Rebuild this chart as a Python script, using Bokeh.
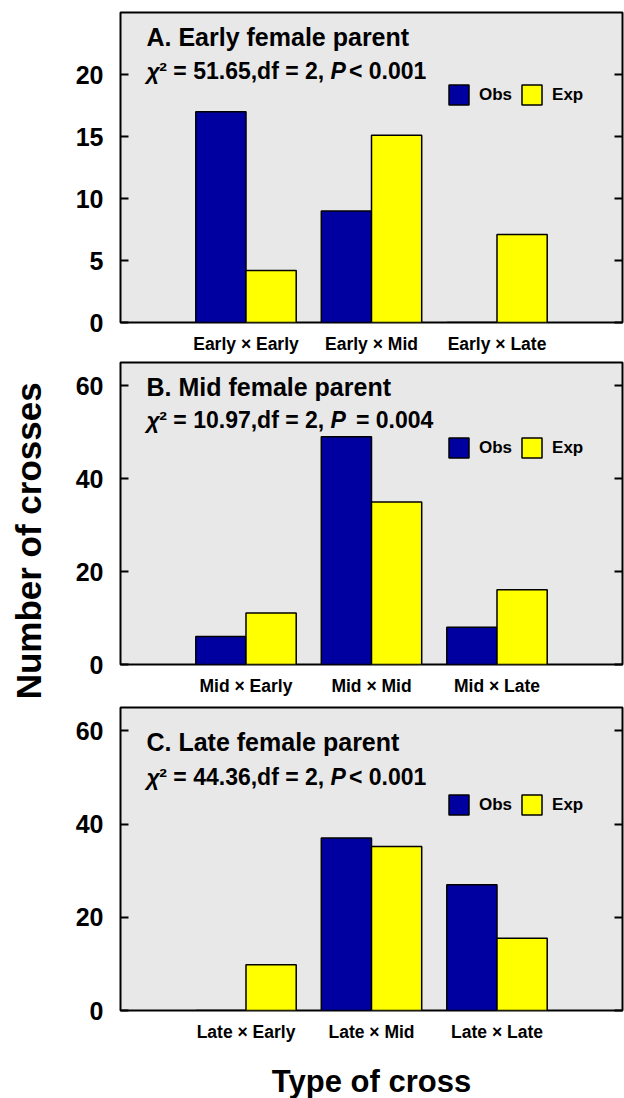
import math
from bokeh.plotting import figure
from bokeh.models import (FactorRange, LinearAxis, FixedTicker, Label, Legend, LegendItem,
                          ColumnDataSource, Range1d, CustomJSTickFormatter)
from bokeh.transform import dodge
from bokeh.layouts import row, column
from bokeh.embed import file_html
from bokeh.resources import INLINE

FONT = "Liberation Sans"

cats_a = ["Early × Early", "Early × Mid", "Early × Late"]
obs_a = [17, 9, 0]
exp_a = [4.2, 15.1, 7.1]

cats_b = ["Mid × Early", "Mid × Mid", "Mid × Late"]
obs_b = [6, 49, 8]
exp_b = [11.1, 35.0, 16.1]

cats_c = ["Late × Early", "Late × Mid", "Late × Late"]
obs_c = [0, 37, 27]
exp_c = [9.8, 35.2, 15.5]

titles = ["A. Early female parent", "B. Mid female parent", "C. Late female parent"]
chi_values = ["51.65", "10.97", "44.36"]
p_ops = ["<", "=", "<"]
p_values = ["0.001", "0.004", "0.001"]
y_max = [25, 65, 65]
y_ticks = [[0, 5, 10, 15, 20], [0, 20, 40, 60], [0, 20, 40, 60]]

OBS_COLOR = "#0000A0"
EXP_COLOR = "#FFFF00"
BG = "#E8E8E8"

# Arial-bold-like advance widths (per 1000 em)
W = {" ": 278, ",": 278, ".": 278, "=": 584, "<": 584, "d": 611, "f": 333, "P": 667,
     "²": 333, "χ": 556}
for ch in "0123456789":
    W[ch] = 556


def tw(s, size):
    return sum(W.get(c, 556) for c in s) * size / 1000.0


def make_panel(cats, obs, exp, title, chi, op, pv, ymax, ticks, fh, top, bottom,
               title_y, chi_y, leg_y, xlabel=None):
    p = figure(x_range=FactorRange(factors=cats, range_padding=0.5, range_padding_units="absolute"),
               y_range=Range1d(0, ymax), frame_width=502, frame_height=fh,
               min_border_left=64, min_border_right=2, min_border_top=top, min_border_bottom=bottom,
               output_backend="svg", toolbar_location=None)
    p.background_fill_color = BG
    p.border_fill_color = "white"
    p.outline_line_color = "black"
    p.outline_line_width = 2
    p.xgrid.grid_line_color = None
    p.ygrid.grid_line_color = None

    p.yaxis.ticker = FixedTicker(ticks=ticks)
    p.yaxis.major_tick_in = 8
    p.yaxis.major_tick_out = 0
    p.yaxis.major_tick_line_width = 2
    p.yaxis.major_tick_line_color = "black"
    p.yaxis.minor_tick_line_color = None
    p.yaxis.axis_line_color = None
    p.yaxis.major_label_text_font = FONT
    p.yaxis.major_label_text_font_size = "25px"
    p.yaxis.major_label_text_font_style = "bold"
    p.yaxis.major_label_text_color = "black"
    p.yaxis.major_label_standoff = 17

    rax = LinearAxis(ticker=FixedTicker(ticks=ticks),
                     formatter=CustomJSTickFormatter(code="return ''"),
                     major_tick_in=8, major_tick_out=0, major_tick_line_width=2,
                     major_tick_line_color="black",
                     minor_tick_line_color=None, axis_line_color=None,
                     major_label_text_font_size="1px", major_label_standoff=0)
    p.add_layout(rax, "right")

    p.xaxis.major_tick_line_color = None
    p.xaxis.axis_line_color = None
    p.xaxis.major_label_text_font = FONT
    p.xaxis.major_label_text_font_size = "17.5px"
    p.xaxis.major_label_text_font_style = "bold"
    p.xaxis.major_label_text_color = "black"
    p.xaxis.major_label_standoff = 5
    if xlabel:
        p.xaxis.axis_label = xlabel
        p.xaxis.axis_label_text_font = FONT
        p.xaxis.axis_label_text_font_size = "31px"
        p.xaxis.axis_label_text_font_style = "bold"
        p.xaxis.axis_label_text_color = "black"
        p.xaxis.axis_label_standoff = 19

    src = ColumnDataSource(dict(cat=cats, obs=obs, exp=exp))
    r1 = p.vbar(x=dodge("cat", -0.2, range=p.x_range), top="obs", width=0.4, source=src,
                fill_color=OBS_COLOR, line_color="black", line_width=1.5)
    r2 = p.vbar(x=dodge("cat", 0.2, range=p.x_range), top="exp", width=0.4, source=src,
                fill_color=EXP_COLOR, line_color="black", line_width=1.5)

    leg = Legend(items=[LegendItem(label="Obs", renderers=[r1]),
                        LegendItem(label="Exp", renderers=[r2])],
                 orientation="horizontal", location=(326, leg_y), padding=0, margin=0,
                 spacing=7, glyph_width=25, glyph_height=25, label_standoff=8,
                 label_height=20, label_text_font=FONT, label_text_font_style="bold",
                 label_text_font_size="17px", label_text_color="black",
                 border_line_color=None, background_fill_alpha=0)
    p.add_layout(leg)

    x0 = 26
    p.add_layout(Label(x=-0.5, y=title_y, x_offset=x0, text=title, text_font=FONT,
                       text_font_size="25px", text_font_style="bold", text_color="black",
                       text_baseline="middle"))
    fs = 23
    gap = 3 if op == "<" else 10
    pieces = [("χ", "bold italic", 0), ("² = " + chi + ",df = 2, ", "bold", 0),
              ("P", "bold italic", 0), (op + " " + pv, "bold", gap)]
    off = x0
    for txt, style, extra in pieces:
        off += extra
        p.add_layout(Label(x=-0.5, y=chi_y, x_offset=off, text=txt, text_font=FONT,
                           text_font_size=f"{fs}px", text_font_style=style, text_color="black",
                           text_baseline="middle"))
        off += tw(txt, fs)
    return p


pA = make_panel(cats_a, obs_a, exp_a, titles[0], chi_values[0], p_ops[0], p_values[0],
                y_max[0], y_ticks[0], 310, 12, 36, 23.0, 20.3, 215)
pB = make_panel(cats_b, obs_b, exp_b, titles[1], chi_values[1], p_ops[1], p_values[1],
                y_max[1], y_ticks[1], 302, 4, 38, 59.7, 52.6, 204)
pC = make_panel(cats_c, obs_c, exp_c, titles[2], chi_values[2], p_ops[2], p_values[2],
                y_max[2], y_ticks[2], 303, 5, 84, 57.6, 50.1, 193, xlabel="Type of cross")

lf = figure(width=56, height=1096, x_range=Range1d(0, 1), y_range=Range1d(0, 1),
            output_backend="svg", toolbar_location=None, min_border=0,
            x_axis_location=None, y_axis_location=None)
lf.outline_line_color = None
lf.xgrid.grid_line_color = None
lf.ygrid.grid_line_color = None
lf.add_layout(Label(x=0.5, y=0.507, text="Number of crosses", angle=math.pi / 2,
                    text_align="center", text_baseline="middle", text_font=FONT,
                    text_font_size="35px", text_font_style="bold", text_color="black"))

layout = row(lf, column(pA, pB, pC))
open("out.html", "w").write(file_html(layout, INLINE))
